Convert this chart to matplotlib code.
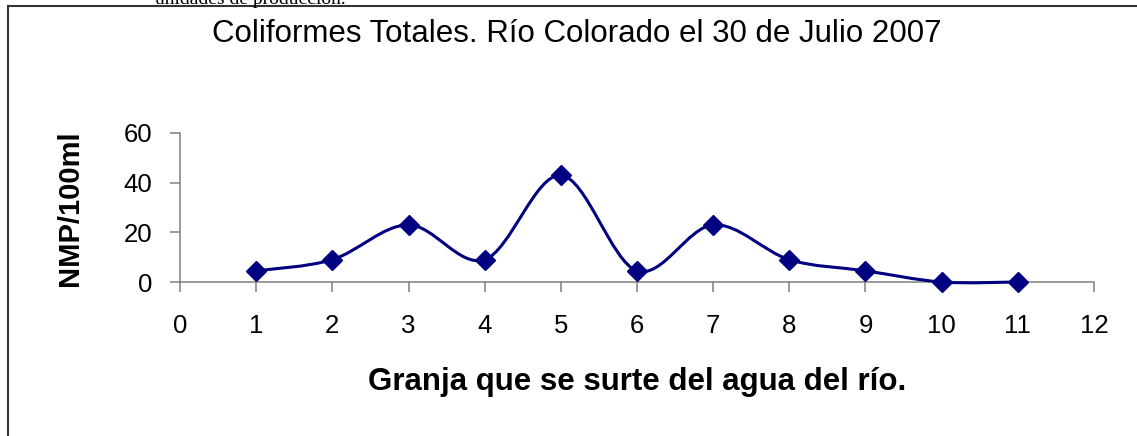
import matplotlib
matplotlib.use("Agg")
import matplotlib.pyplot as plt
import numpy as np
from matplotlib.path import Path
from matplotlib.patches import PathPatch
from matplotlib.lines import Line2D

# data
granja = [1, 2, 3, 4, 5, 6, 7, 8, 9, 10, 11]
nmp = [4.5, 9, 23, 9, 43, 4.5, 23, 9, 4.5, 0, 0]
xticks = list(range(0, 13))
yticks = [0, 20, 40, 60]

title = "Coliformes Totales. Río Colorado el 30 de Julio 2007"
xlabel = "Granja que se surte del agua del río."
ylabel = "NMP/100ml"
top_text = "unidades de producción."

W, H = 1137, 436
navy = "#000080"
axis_gray = "#808080"

plt.rcParams['font.family'] = ['Liberation Sans', 'DejaVu Sans']


def smooth_path(xs, ys):
    # excel-like smoothed line: cubic bezier through each point
    pts = np.column_stack([xs, ys]).astype(float)
    n = len(pts)
    verts = [pts[0]]
    codes = [Path.MOVETO]
    for i in range(n - 1):
        p0 = pts[i - 1] if i > 0 else pts[i]
        p1 = pts[i]
        p2 = pts[i + 1]
        p3 = pts[i + 2] if i + 2 < n else pts[i + 1]
        c1 = p1 + (p2 - p0) / 6.0
        c2 = p2 - (p3 - p1) / 6.0
        verts += [c1, c2, p2]
        codes += [Path.CURVE4] * 3
    return Path(verts, codes)


fig = plt.figure(figsize=(W / 100, H / 100), dpi=100)
ax = fig.add_axes([180 / W, (H - 282) / H, (1094 - 180) / W, (282 - 133) / H])

line = PathPatch(smooth_path(granja, nmp), fill=False, edgecolor=navy,
                 linewidth=2.2, clip_on=False, zorder=3)
ax.add_patch(line)
ax.plot(granja, nmp, linestyle='none', marker='D', markersize=10,
        color=navy, markeredgecolor=navy, clip_on=False, zorder=4)

ax.set_xlim(0, 12)
ax.set_ylim(0, 60)
ax.set_xticks(xticks)
ax.set_yticks(yticks)
for s in ['top', 'right']:
    ax.spines[s].set_visible(False)
for s in ['left', 'bottom']:
    ax.spines[s].set_color(axis_gray)
    ax.spines[s].set_linewidth(1.1)
ax.tick_params(axis='both', direction='out', length=7, width=1.1,
               color=axis_gray, labelsize=18.5, labelcolor='black')
ax.tick_params(axis='x', pad=16)
ax.tick_params(axis='y', pad=13)

fig.text(577 / W, (H - 42) / H, title, ha='center', va='baseline', fontsize=22.5)
fig.text(637 / W, (H - 390) / H, xlabel, ha='center', va='baseline',
         fontsize=22.5, fontweight='bold')
fig.text(70 / W, (H - 208) / H, ylabel, ha='center', va='center',
         rotation=90, fontsize=21, fontweight='bold')
fig.text(155 / W, (H - 4) / H, top_text, ha='left', va='baseline',
         fontsize=14, family='Liberation Serif')

# frame of the pasted chart
fig.add_artist(Line2D([8 / W, 8 / W], [0, (H - 6) / H], transform=fig.transFigure,
                      color='#333333', linewidth=1.5))
fig.add_artist(Line2D([8 / W, 1], [(H - 6) / H, (H - 6) / H], transform=fig.transFigure,
                      color='#333333', linewidth=1.5))

fig.savefig("out.png", dpi=100)
